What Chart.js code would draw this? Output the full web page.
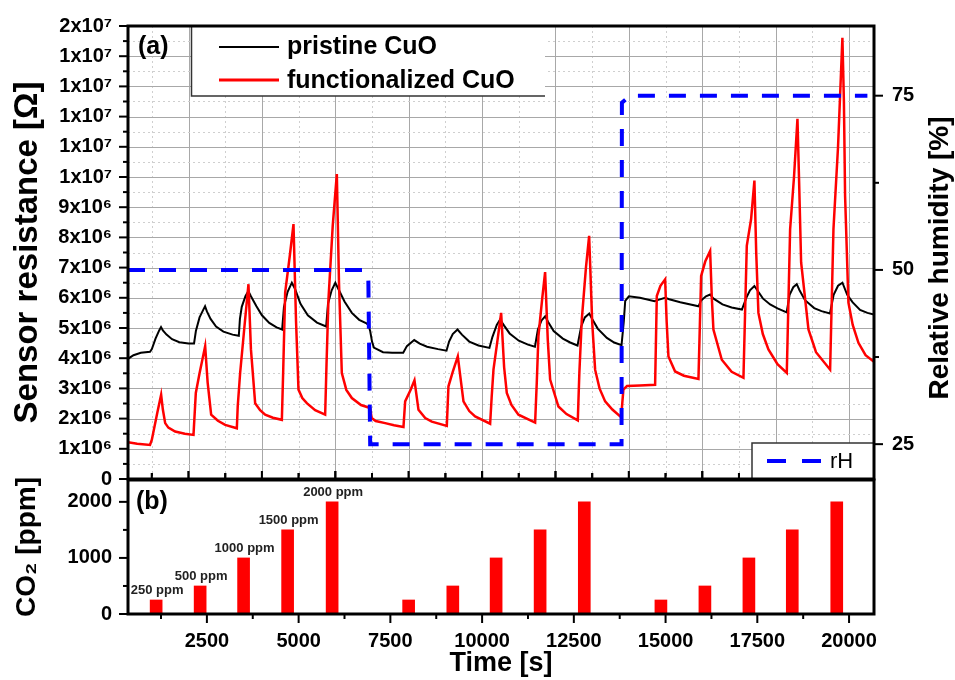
<!DOCTYPE html>
<html>
<head>
<meta charset="utf-8">
<script src="https://cdn.jsdelivr.net/npm/chart.js@4.4.1/dist/chart.umd.min.js"></script>
<style>
  html, body { margin: 0; padding: 0; background: #fff; }
  #wrap { position: relative; width: 955px; height: 680px; overflow: hidden; }
  #co2Chart { position: absolute; left: 0; top: 470px; }
  #resChart { position: absolute; left: 0; top: 0; }
</style>
</head>
<body>
<div id="wrap">
  <canvas id="co2Chart" width="955" height="210"></canvas>
  <canvas id="resChart" width="955" height="510"></canvas>
</div>
<script>
/* ---- data: [time s, resistance in 10^6 Ohm] ---- */
const pristineCuO = [
  [350,3.98],[500,4.10],[700,4.18],[950,4.21],[1000,4.30],[1100,4.65],[1200,4.92],[1250,5.03],[1300,4.92],
  [1400,4.78],[1550,4.63],[1750,4.53],[2000,4.49],[2150,4.49],[2200,4.90],[2300,5.35],[2400,5.60],[2450,5.72],
  [2500,5.55],[2600,5.30],[2750,5.05],[2950,4.88],[3200,4.78],[3370,4.74],[3400,5.30],[3450,5.70],[3550,6.05],
  [3630,6.22],[3700,6.05],[3850,5.72],[4000,5.42],[4200,5.17],[4400,5.02],[4550,4.95],[4600,5.70],[4700,6.20],
  [4815,6.50],[4900,6.30],[5050,5.80],[5250,5.42],[5500,5.18],[5750,5.05],[5800,5.80],[5900,6.25],[6000,6.50],
  [6100,6.25],[6250,5.88],[6450,5.50],[6650,5.27],[6850,5.15],[6900,5.10],[6950,4.90],[7000,4.55],[7050,4.35],
  [7300,4.20],[7550,4.18],[7850,4.18],[7950,4.40],[8150,4.60],[8300,4.48],[8500,4.38],[8800,4.30],[9030,4.25],
  [9100,4.55],[9200,4.80],[9330,4.95],[9450,4.78],[9650,4.55],[9900,4.42],[10200,4.34],[10280,4.70],[10400,5.10],
  [10490,5.28],[10600,5.08],[10750,4.82],[11000,4.58],[11250,4.45],[11440,4.38],[11520,4.95],[11620,5.25],
  [11720,5.39],[11800,5.20],[11950,4.90],[12200,4.65],[12400,4.52],[12600,4.42],[12700,5.05],[12800,5.35],
  [12920,5.48],[13000,5.30],[13150,4.98],[13400,4.67],[13600,4.52],[13800,4.43],[13860,5.20],[13900,5.90],
  [14000,6.05],[14300,6.00],[14700,5.89],[14800,5.93],[14990,6.00],[15100,5.95],[15400,5.85],[15900,5.72],
  [15960,5.90],[16100,6.05],[16214,6.11],[16300,5.98],[16550,5.78],[16800,5.68],[17080,5.61],[17200,6.00],
  [17300,6.25],[17420,6.39],[17500,6.25],[17650,5.98],[17850,5.78],[18050,5.65],[18300,5.52],[18380,6.10],
  [18480,6.35],[18575,6.45],[18650,6.25],[18800,5.92],[19050,5.66],[19250,5.56],[19480,5.48],[19580,6.10],
  [19700,6.40],[19820,6.50],[19950,6.10],[20100,5.85],[20300,5.60],[20500,5.50],[20680,5.45]
];

const functionalizedCuO = [
  [350,1.22],[600,1.17],[950,1.13],[1000,1.30],[1150,2.20],[1253,2.79],[1300,2.30],[1363,1.85],[1450,1.70],
  [1635,1.57],[1900,1.50],[2135,1.46],[2198,2.85],[2300,3.50],[2453,4.40],[2520,3.20],[2616,2.13],[2800,1.93],
  [2998,1.79],[3316,1.68],[3340,2.40],[3406,3.51],[3520,5.00],[3633,6.45],[3700,4.30],[3815,2.51],[3950,2.28],
  [4088,2.13],[4300,2.03],[4543,1.96],[4580,3.60],[4633,6.17],[4760,7.40],[4860,8.44],[4930,5.20],[4996,2.96],
  [5100,2.68],[5223,2.51],[5450,2.28],[5723,2.13],[5760,3.80],[5813,5.95],[5930,8.40],[6041,10.10],[6100,6.50],
  [6177,3.51],[6300,2.95],[6450,2.68],[6700,2.45],[6949,2.35],[6990,2.02],[7100,1.92],[7358,1.85],[7600,1.78],
  [7857,1.72],[7903,2.57],[8050,2.95],[8157,3.27],[8266,2.29],[8450,2.02],[8629,1.90],[9038,1.76],[9083,3.07],
  [9200,3.55],[9338,4.06],[9492,2.57],[9650,2.25],[9810,2.07],[10219,1.83],[10260,2.70],[10310,3.62],[10420,4.60],
  [10519,5.50],[10600,3.70],[10673,2.85],[10800,2.45],[10991,2.13],[11445,1.87],[11490,3.20],[11535,4.73],
  [11640,6.00],[11717,6.85],[11790,4.60],[11854,3.29],[12080,2.40],[12300,2.15],[12608,1.94],[12650,3.50],
  [12717,5.28],[12830,7.00],[12917,8.05],[13000,5.20],[13080,3.62],[13200,3.00],[13353,2.57],[13550,2.30],
  [13789,2.05],[13850,2.96],[13950,3.08],[14300,3.10],[14715,3.12],[14761,6.06],[14860,6.40],[14988,6.61],
  [15030,5.20],[15078,4.06],[15260,3.56],[15500,3.42],[15896,3.31],[15969,6.72],[16080,7.20],[16214,7.55],
  [16260,6.00],[16304,4.95],[16532,3.95],[16800,3.55],[17122,3.35],[17213,7.72],[17330,8.60],[17421,9.88],
  [17470,7.50],[17530,5.50],[17650,4.80],[17803,4.29],[18050,3.80],[18303,3.51],[18394,8.27],[18500,10.00],
  [18594,11.93],[18640,9.80],[18694,7.17],[18894,4.95],[19100,4.20],[19484,3.62],[19575,8.27],[19700,11.00],
  [19756,12.70],[19819,14.61],[19860,12.50],[19892,9.38],[19983,5.84],[20100,5.10],[20256,4.51],[20450,4.10],
  [20680,3.88]
];

// relative humidity [%] over time
const relHumidity = [
  [350,50],[6800,50],[6900,48.5],[6950,25],[13800,25],[13810,74],[14030,75],[20500,75]
];

// CO2 pulses
const co2Time = [1117, 2316, 3500, 4700, 5913, 7998, 9202, 10382, 11581, 12785, 14873, 16072, 17271, 18453, 19665];
const co2Ppm  = [250, 500, 1000, 1500, 2000, 250, 500, 1000, 1500, 2000, 250, 500, 1000, 1500, 2000];
const co2Labels = ['250 ppm', '500 ppm', '1000 ppm', '1500 ppm', '2000 ppm', '', '', '', '', '', '', '', '', '', ''];

// axes
const timeTicks = [2500, 5000, 7500, 10000, 12500, 15000, 17500, 20000];
const timeTickLabels = ['2500', '5000', '7500', '10000', '12500', '15000', '17500', '20000'];
const resTicks = [0, 1, 2, 3, 4, 5, 6, 7, 8, 9, 10, 11, 12, 13, 14, 15];
const resTickLabels = ['0', '1x10⁶', '2x10⁶', '3x10⁶', '4x10⁶', '5x10⁶', '6x10⁶', '7x10⁶', '8x10⁶', '9x10⁶',
  '1x10⁷', '1x10⁷', '1x10⁷', '1x10⁷', '1x10⁷', '2x10⁷'];
const rhTicks = [25, 50, 75];
const rhTickLabels = ['25', '50', '75'];
const co2Ticks = [0, 1000, 2000];
const co2TickLabels = ['0', '1000', '2000'];

const X_MIN = 350, X_MAX = 20680;
const FONT = "'Liberation Sans', Arial, sans-serif";
Chart.defaults.font.family = FONT;
Chart.defaults.color = '#000';

const toXY = arr => arr.map(p => ({ x: p[0], y: p[1] }));
const fixedTicks = vals => scale => { scale.ticks = vals.map(v => ({ value: v })); };
// fixed axis size; optionally no extra room for half labels at the ends
const fixSize = (w, h, noPad) => s => {
    if (w != null) s.width = w;
    if (h != null) s.height = h;
    if (noPad) { s.paddingTop = 0; s.paddingBottom = 0; s.paddingLeft = 0; s.paddingRight = 0; }
};

function seg(ctx, x1, y1, x2, y2) {
    ctx.beginPath();
    ctx.moveTo(x1, y1);
    ctx.lineTo(x2, y2);
    ctx.stroke();
}

/* grid, frame, ticks and legend for panel (a) */
const topDecor = {
    id: 'topDecor',
    beforeDatasetsDraw(chart) {
        const { ctx, chartArea: a, scales: { x, y } } = chart;
        ctx.save();
        ctx.beginPath();
        ctx.rect(a.left, a.top, a.width, a.height);
        ctx.clip();
        ctx.lineWidth = 1;
        for (let t = 1000; t <= 20000; t += 1000) {
            const px = Math.round(x.getPixelForValue(t)) + 0.5;
            const major = t % 2000 === 0;
            ctx.strokeStyle = major ? '#a8a8a8' : '#cfcfcf';
            ctx.setLineDash(major ? [] : [2, 3]);
            seg(ctx, px, a.top, px, a.bottom);
        }
        for (let k = 1; k < 30; k++) {
            const py = Math.round(y.getPixelForValue(k / 2)) + 0.5;
            const major = k % 2 === 0;
            ctx.strokeStyle = major ? '#a8a8a8' : '#cfcfcf';
            ctx.setLineDash(major ? [] : [2, 3]);
            seg(ctx, a.left, py, a.right, py);
        }
        ctx.restore();
    },
    afterDraw(chart) {
        const { ctx, chartArea: a, scales: { x, y, yRH } } = chart;
        ctx.save();
        // tick marks
        ctx.strokeStyle = '#000';
        ctx.lineWidth = 2;
        for (let k = 0; k <= 30; k++) {
            const py = y.getPixelForValue(k / 2);
            seg(ctx, a.left, py, a.left - (k % 2 === 0 ? 9 : 5), py);
        }
        [25, 37.5, 50, 62.5, 75].forEach(v => {
            const py = yRH.getPixelForValue(v);
            seg(ctx, a.right, py, a.right + (v % 25 === 0 ? 9 : 5), py);
        });
        for (let t = 1000; t <= 20000; t += 1000) {
            const px = x.getPixelForValue(t);
            seg(ctx, px, a.bottom, px, a.bottom - (t % 2000 === 0 ? 8 : 6));
        }

        // legend (top left)
        ctx.fillStyle = '#fff';
        ctx.fillRect(191, a.top, 354, 96 - a.top);
        ctx.strokeStyle = '#333';
        ctx.lineWidth = 1.5;
        ctx.beginPath();
        ctx.moveTo(191.5, a.top);
        ctx.lineTo(191.5, 96);
        ctx.lineTo(545, 96);
        ctx.stroke();
        ctx.lineWidth = 2;
        ctx.strokeStyle = '#000';
        seg(ctx, 219, 47, 279, 47);
        ctx.lineWidth = 3;
        ctx.strokeStyle = '#ff0000';
        seg(ctx, 219, 80, 279, 80);
        ctx.fillStyle = '#000';
        ctx.font = `bold 25px ${FONT}`;
        ctx.textBaseline = 'middle';
        ctx.textAlign = 'left';
        ctx.fillText('pristine CuO', 287, 47);
        ctx.fillText('functionalized CuO', 287, 81);
        ctx.fillText('(a)', 138, 47);

        // rH legend (bottom right)
        ctx.fillStyle = '#fff';
        ctx.fillRect(752, 443, a.right - 752, a.bottom - 443);
        ctx.strokeStyle = '#333';
        ctx.lineWidth = 1.5;
        ctx.beginPath();
        ctx.moveTo(752, a.bottom);
        ctx.lineTo(752, 443);
        ctx.lineTo(a.right, 443);
        ctx.stroke();
        ctx.strokeStyle = '#0000ff';
        ctx.lineWidth = 4;
        ctx.setLineDash([19, 16]);
        seg(ctx, 767, 461, 822, 461);
        ctx.setLineDash([]);
        ctx.fillStyle = '#000';
        ctx.font = `22px ${FONT}`;
        ctx.fillText('rH', 830, 462);

        // frame
        ctx.strokeStyle = '#000';
        ctx.lineWidth = 3;
        ctx.strokeRect(a.left, a.top, a.width, a.height);

        // right axis title (reads bottom to top)
        ctx.translate(940, 258);
        ctx.rotate(-Math.PI / 2);
        ctx.font = `bold 28px ${FONT}`;
        ctx.textAlign = 'center';
        ctx.fillText('Relative humidity [%]', 0, 0);
        ctx.restore();
    }
};

/* frame, ticks and ppm labels for panel (b); also the shared edge with panel (a) */
const bottomDecor = {
    id: 'bottomDecor',
    afterDatasetsDraw(chart) {
        const { ctx } = chart;
        const meta = chart.getDatasetMeta(0);
        ctx.save();
        ctx.font = `bold 13px ${FONT}`;
        ctx.fillStyle = '#222';
        ctx.textAlign = 'center';
        ctx.textBaseline = 'alphabetic';
        meta.data.forEach((bar, i) => {
            if (co2Labels[i]) ctx.fillText(co2Labels[i], bar.x + 1, bar.y - 6);
        });
        ctx.restore();
    },
    afterDraw(chart) {
        const { ctx, chartArea: a, scales: { x, y } } = chart;
        ctx.save();
        ctx.strokeStyle = '#000';
        ctx.lineWidth = 2;
        for (let v = 0; v <= 2000; v += 500) {
            const py = y.getPixelForValue(v);
            seg(ctx, a.left, py, a.left - (v % 1000 === 0 ? 9 : 5), py);
        }
        for (let t = 1250; t <= 20000; t += 1250) {
            const px = x.getPixelForValue(t);
            seg(ctx, px, a.bottom, px, a.bottom + (t % 2500 === 0 ? 9 : 5));
        }
        // panel (a) bottom ticks (pointing up) and its zero label, on the shared edge
        for (let t = 1000; t <= 20000; t += 1000) {
            const px = x.getPixelForValue(t);
            seg(ctx, px, a.top - 1, px, a.top - 1 - (t % 2000 === 0 ? 8 : 6));
        }
        seg(ctx, a.left, a.top - 1, a.left - 9, a.top - 1);
        ctx.fillStyle = '#000';
        ctx.font = `bold 20px ${FONT}`;
        ctx.textAlign = 'right';
        ctx.textBaseline = 'middle';
        ctx.fillText(resTickLabels[0], a.left - 16, a.top - 1);

        ctx.lineWidth = 3;
        ctx.strokeRect(a.left, a.top, a.width, a.height);
        ctx.font = `bold 25px ${FONT}`;
        ctx.textAlign = 'left';
        ctx.fillText('(b)', 136, a.top + 22);
        ctx.restore();
    }
};

new Chart(document.getElementById('co2Chart'), {
    type: 'bar',
    data: {
        datasets: [{
            label: 'CO2',
            data: co2Time.map((t, i) => ({ x: t, y: co2Ppm[i] })),
            backgroundColor: '#ff0000',
            borderWidth: 0,
            barThickness: 12
        }]
    },
    options: {
        responsive: false,
        animation: false,
        layout: { padding: { top: 10, right: 81 } },
        scales: {
            x: {
                type: 'linear', min: X_MIN, max: X_MAX, offset: false,
                afterBuildTicks: fixedTicks(timeTicks),
                afterFit: fixSize(null, 66, true),
                grid: { display: false, drawTicks: false, offset: false },
                border: { display: false },
                ticks: { autoSkip: false, maxRotation: 0, padding: 15, font: { size: 20, weight: 'bold' }, callback: (v, i) => timeTickLabels[i] },
                title: { display: true, text: 'Time [s]', font: { size: 27, weight: 'bold' }, padding: { top: 0, bottom: 0 } }
            },
            y: {
                min: 0, max: 2390,
                afterBuildTicks: fixedTicks(co2Ticks),
                afterFit: fixSize(128, null, true),
                grid: { display: false, drawTicks: false },
                border: { display: false },
                ticks: { autoSkip: false, padding: 16, font: { size: 20, weight: 'bold' }, callback: (v, i) => co2TickLabels[i] },
                title: { display: true, text: 'CO₂ [ppm]', font: { size: 28, weight: 'bold' }, padding: { top: 10, bottom: 0 } }
            }
        },
        plugins: { legend: { display: false }, tooltip: { enabled: false } }
    },
    plugins: [bottomDecor]
});

new Chart(document.getElementById('resChart'), {
    type: 'line',
    data: {
        datasets: [
            { label: 'rH', data: toXY(relHumidity), yAxisID: 'yRH', borderColor: '#0000ff', borderWidth: 4, borderDash: [17, 14] },
            { label: 'functionalized CuO', data: toXY(functionalizedCuO), yAxisID: 'y', borderColor: '#ff0000', borderWidth: 2.5 },
            { label: 'pristine CuO', data: toXY(pristineCuO), yAxisID: 'y', borderColor: '#000000', borderWidth: 2 }
        ]
    },
    options: {
        responsive: false,
        animation: false,
        layout: { padding: { top: 26, bottom: 31 } },
        elements: { point: { radius: 0 }, line: { tension: 0 } },
        scales: {
            x: { type: 'linear', min: X_MIN, max: X_MAX, display: false },
            y: {
                position: 'left', min: 0, max: 15,
                afterBuildTicks: fixedTicks(resTicks),
                afterFit: fixSize(128, null, false),
                grid: { display: false, drawTicks: false },
                border: { display: false },
                // the zero label is drawn on the shared edge by bottomDecor
                ticks: { autoSkip: false, padding: 16, font: { size: 20, weight: 'bold', lineHeight: 1 }, callback: (v, i) => (i === 0 ? '' : resTickLabels[i]) },
                title: { display: true, text: 'Sensor resistance [Ω]', font: { size: 33, weight: 'bold' }, padding: { top: 8, bottom: 0 } }
            },
            yRH: {
                position: 'right', min: 20, max: 85,
                afterBuildTicks: fixedTicks(rhTicks),
                afterFit: fixSize(81, null, false),
                grid: { display: false, drawTicks: false },
                border: { display: false },
                ticks: { autoSkip: false, padding: 18, font: { size: 20, weight: 'bold', lineHeight: 0.8 }, callback: (v, i) => rhTickLabels[i] }
            }
        },
        plugins: { legend: { display: false }, tooltip: { enabled: false } }
    },
    plugins: [topDecor]
});
</script>
</body>
</html>
